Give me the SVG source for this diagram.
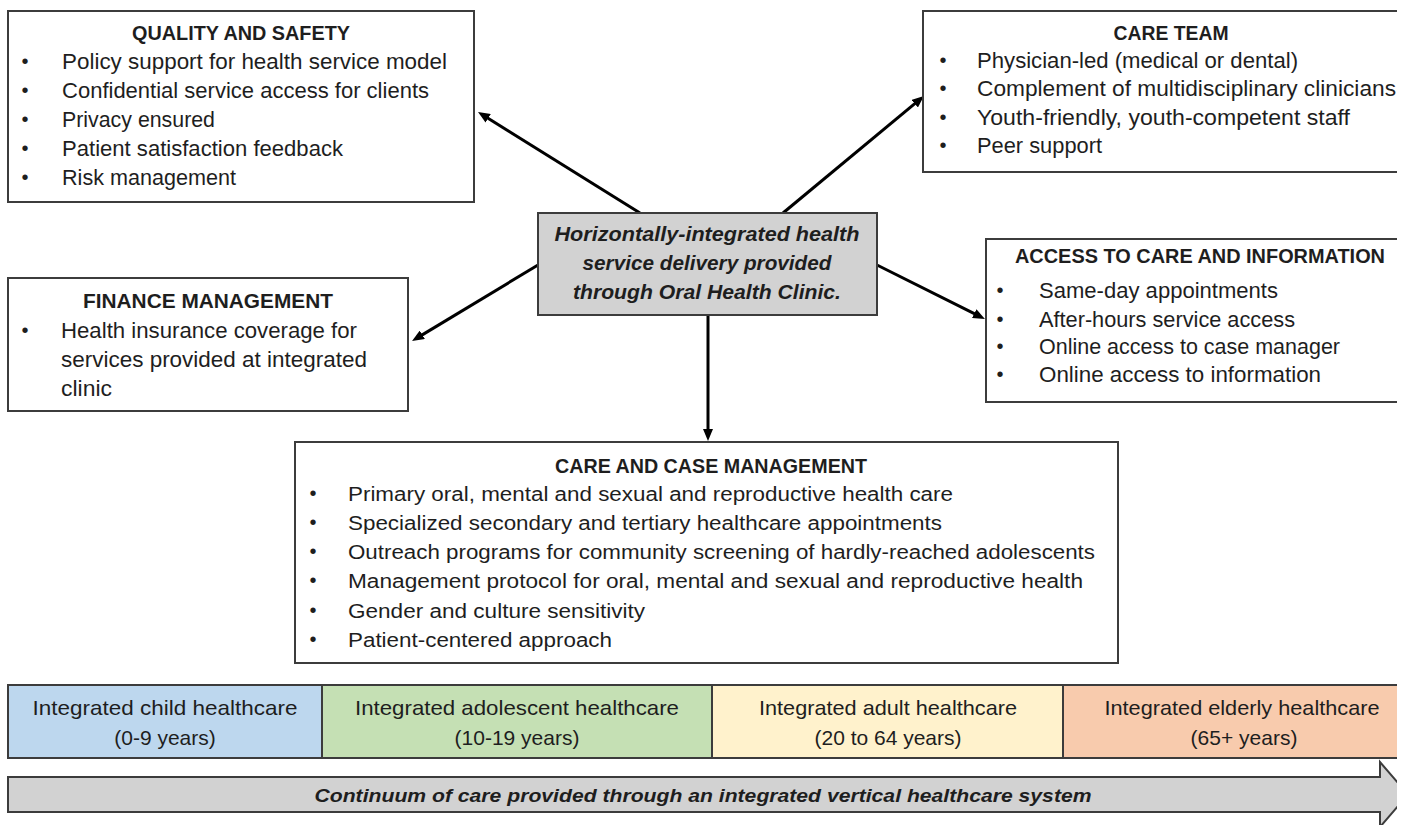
<svg xmlns="http://www.w3.org/2000/svg" width="1410" height="825" viewBox="0 0 1410 825">
<style>
.box{fill:#ffffff;stroke:#3c3c3c;stroke-width:2}
.hub{fill:#d2d2d2;stroke:#3c3c3c;stroke-width:2}
.t{font-family:"Liberation Sans",Arial,sans-serif;fill:#1e1e1e}
.title{font-size:20px;font-weight:bold;text-anchor:middle}
.item{font-size:22px}
.item2{font-size:20px}
.bul{text-anchor:middle;font-size:20px}
.hubt{font-size:21px;font-weight:bold;font-style:italic;text-anchor:middle}
.band{font-size:21px;text-anchor:middle}
.conn{stroke:#000;stroke-width:3;fill:none;marker-end:url(#ah)}
.strip{stroke:#3c3c3c;stroke-width:2}
</style>
<defs>
<marker id="ah" viewBox="0 0 12 10" refX="4" refY="5" markerWidth="12" markerHeight="10" markerUnits="userSpaceOnUse" orient="auto">
<path d="M0,0 L12,5 L0,10 z" fill="#000"/>
</marker>
<clipPath id="clip"><rect x="0" y="0" width="1397" height="825"/></clipPath>
</defs>
<rect x="0" y="0" width="1410" height="825" fill="#ffffff"/>
<g clip-path="url(#clip)">

<g id="connectors">
<line class="conn" x1="640" y1="213" x2="484.8" y2="116.2"/>
<line class="conn" x1="783" y1="213" x2="917.8" y2="101.1"/>
<line class="conn" x1="538" y1="265" x2="418.9" y2="336.9"/>
<line class="conn" x1="877" y1="265" x2="977.8" y2="315.4"/>
<line class="conn" x1="708" y1="315" x2="708" y2="433"/>
</g>

<g id="quality">
<rect class="box" x="8" y="11" width="466" height="191"/>
<text class="t title" x="241" y="40" textLength="218" lengthAdjust="spacingAndGlyphs">QUALITY AND SAFETY</text>
<g class="t bul"><text x="25" y="68">•</text><text x="25" y="97">•</text><text x="25" y="126">•</text><text x="25" y="155">•</text><text x="25" y="184">•</text></g>
<text class="t item" x="62" y="69" textLength="385" lengthAdjust="spacingAndGlyphs">Policy support for health service model</text>
<text class="t item" x="62" y="98" textLength="367" lengthAdjust="spacingAndGlyphs">Confidential service access for clients</text>
<text class="t item" x="62" y="127" textLength="153" lengthAdjust="spacingAndGlyphs">Privacy ensured</text>
<text class="t item" x="62" y="156" textLength="281" lengthAdjust="spacingAndGlyphs">Patient satisfaction feedback</text>
<text class="t item" x="62" y="185" textLength="174" lengthAdjust="spacingAndGlyphs">Risk management</text>
</g>

<g id="care-team">
<rect class="box" x="923" y="11" width="500" height="161"/>
<text class="t title" x="1171" y="40" textLength="115" lengthAdjust="spacingAndGlyphs">CARE TEAM</text>
<g class="t bul"><text x="943" y="67">•</text><text x="943" y="95">•</text><text x="943" y="124">•</text><text x="943" y="152">•</text></g>
<text class="t item" x="977" y="68" textLength="321" lengthAdjust="spacingAndGlyphs">Physician-led (medical or dental)</text>
<text class="t item" x="977" y="96" textLength="419" lengthAdjust="spacingAndGlyphs">Complement of multidisciplinary clinicians</text>
<text class="t item" x="977" y="125" textLength="373" lengthAdjust="spacingAndGlyphs">Youth-friendly, youth-competent staff</text>
<text class="t item" x="977" y="153" textLength="125" lengthAdjust="spacingAndGlyphs">Peer support</text>
</g>

<g id="hub">
<rect class="hub" x="538" y="213" width="339" height="102"/>
<text class="t hubt" x="707" y="241" textLength="305" lengthAdjust="spacingAndGlyphs">Horizontally-integrated health</text>
<text class="t hubt" x="707" y="270" textLength="249" lengthAdjust="spacingAndGlyphs">service delivery provided</text>
<text class="t hubt" x="707" y="299" textLength="268" lengthAdjust="spacingAndGlyphs">through Oral Health Clinic.</text>
</g>

<g id="finance">
<rect class="box" x="8" y="278" width="400" height="133"/>
<text class="t title" x="208" y="308" textLength="250" lengthAdjust="spacingAndGlyphs">FINANCE MANAGEMENT</text>
<text class="t bul" x="25" y="337">•</text>
<text class="t item" x="61" y="338" textLength="296" lengthAdjust="spacingAndGlyphs">Health insurance coverage for</text>
<text class="t item" x="61" y="367" textLength="306" lengthAdjust="spacingAndGlyphs">services provided at integrated</text>
<text class="t item" x="61" y="396" textLength="51" lengthAdjust="spacingAndGlyphs">clinic</text>
</g>

<g id="access">
<rect class="box" x="986" y="239" width="440" height="163"/>
<text class="t title" x="1200" y="263" textLength="370" lengthAdjust="spacingAndGlyphs">ACCESS TO CARE AND INFORMATION</text>
<g class="t bul"><text x="1000" y="297">•</text><text x="1000" y="326">•</text><text x="1000" y="353">•</text><text x="1000" y="381">•</text></g>
<text class="t item" x="1039" y="298" textLength="239" lengthAdjust="spacingAndGlyphs">Same-day appointments</text>
<text class="t item" x="1039" y="327" textLength="256" lengthAdjust="spacingAndGlyphs">After-hours service access</text>
<text class="t item" x="1039" y="354" textLength="301" lengthAdjust="spacingAndGlyphs">Online access to case manager</text>
<text class="t item" x="1039" y="382" textLength="282" lengthAdjust="spacingAndGlyphs">Online access to information</text>
</g>

<g id="care-case">
<rect class="box" x="295" y="442" width="823" height="221"/>
<text class="t title" x="711" y="473" textLength="312" lengthAdjust="spacingAndGlyphs">CARE AND CASE MANAGEMENT</text>
<g class="t bul"><text x="313" y="500">•</text><text x="313" y="529">•</text><text x="313" y="558">•</text><text x="313" y="587">•</text><text x="313" y="617">•</text><text x="313" y="646">•</text></g>
<text class="t item2" x="348" y="501" textLength="605" lengthAdjust="spacingAndGlyphs">Primary oral, mental and sexual and reproductive health care</text>
<text class="t item2" x="348" y="530" textLength="594" lengthAdjust="spacingAndGlyphs">Specialized secondary and tertiary healthcare appointments</text>
<text class="t item2" x="348" y="559" textLength="747" lengthAdjust="spacingAndGlyphs">Outreach programs for community screening of hardly-reached adolescents</text>
<text class="t item2" x="348" y="588" textLength="735" lengthAdjust="spacingAndGlyphs">Management protocol for oral, mental and sexual and reproductive health</text>
<text class="t item2" x="348" y="618" textLength="297" lengthAdjust="spacingAndGlyphs">Gender and culture sensitivity</text>
<text class="t item2" x="348" y="647" textLength="264" lengthAdjust="spacingAndGlyphs">Patient-centered approach</text>
</g>

<g id="band-child">
<rect class="strip" x="8" y="685" width="314" height="73" fill="#bdd7ee"/>
<text class="t band" x="165" y="715" textLength="265" lengthAdjust="spacingAndGlyphs">Integrated child healthcare</text>
<text class="t band" x="165" y="745">(0-9 years)</text>
</g>
<g id="band-adolescent">
<rect class="strip" x="322" y="685" width="390" height="73" fill="#c5e0b4"/>
<text class="t band" x="517" y="715" textLength="324" lengthAdjust="spacingAndGlyphs">Integrated adolescent healthcare</text>
<text class="t band" x="517" y="745">(10-19 years)</text>
</g>
<g id="band-adult">
<rect class="strip" x="712" y="685" width="351" height="73" fill="#fff2cc"/>
<text class="t band" x="888" y="715" textLength="258" lengthAdjust="spacingAndGlyphs">Integrated adult healthcare</text>
<text class="t band" x="888" y="745">(20 to 64 years)</text>
</g>
<g id="band-elderly">
<rect class="strip" x="1063" y="685" width="360" height="73" fill="#f8cbad"/>
<text class="t band" x="1242" y="715" textLength="275" lengthAdjust="spacingAndGlyphs">Integrated elderly healthcare</text>
<text class="t band" x="1244" y="745">(65+ years)</text>
</g>

<g id="continuum">
<path d="M8,777 L1380,777 L1380,762 L1408,794.5 L1380,827 L1380,812 L8,812 Z" fill="#d2d2d2" stroke="#3c3c3c" stroke-width="2"/>
<text class="t hubt" x="703" y="802" style="font-size:19px" textLength="777" lengthAdjust="spacingAndGlyphs">Continuum of care provided through an integrated vertical healthcare system</text>
</g>

</g>
</svg>
